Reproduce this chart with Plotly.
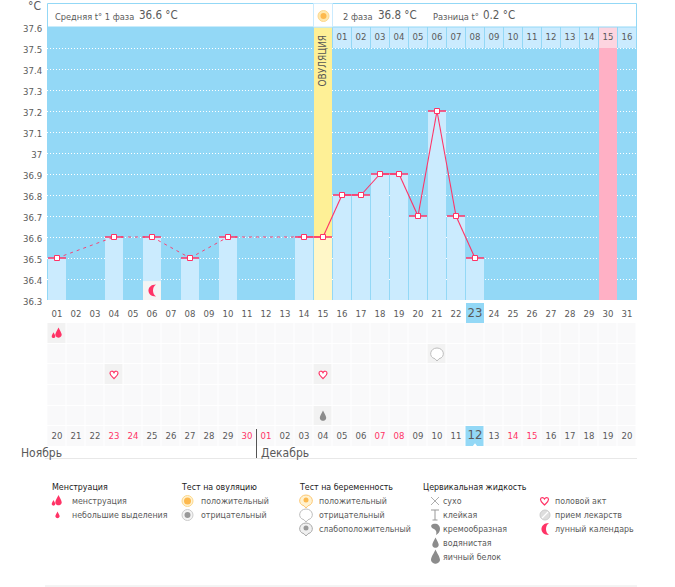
import plotly.graph_objects as go

W, H = 675, 587
FONT = "DejaVu Sans Condensed, DejaVu Sans"
TXT = "#5a5a5a"
PINK = "#ff3366"
BLUE = "#93d8f6"
PALE = "#cbebfe"

# chart data
temp_days = [1, 4, 6, 8, 10, 14, 15, 16, 17, 18, 19, 20, 21, 22, 23]
temps = [36.5, 36.6, 36.6, 36.5, 36.6, 36.6, 36.6, 36.8, 36.8, 36.9, 36.9, 36.7, 37.2, 36.7, 36.5]
temp_ticks = [36.3, 36.4, 36.5, 36.6, 36.7, 36.8, 36.9, 37.0, 37.1, 37.2, 37.3, 37.4, 37.5, 37.6]
temp_labels = ["36.3", "36.4", "36.5", "36.6", "36.7", "36.8", "36.9", "37", "37.1", "37.2", "37.3", "37.4", "37.5", "37.6"]
cycle_days = list(range(1, 32))
cycle_labels = ["%02d" % d for d in cycle_days]
today_col = 23
ovulation_day = 15
next_period_day = 30
moon_day = 6
phase2_days = cycle_days[15:]
phase2_labels = ["%02d" % d for d in range(1, 17)]
date_labels = ["20", "21", "22", "23", "24", "25", "26", "27", "28", "29", "30",
               "01", "02", "03", "04", "05", "06", "07", "08", "09", "10", "11",
               "12", "13", "14", "15", "16", "17", "18", "19", "20"]
weekend_labels = [4, 5, 11, 12, 18, 19, 25, 26]  # cycle days printed in red
menses_days = [1]
preg_neg_days = [21]
sex_days = [4, 15]
watery_days = [15]


def px(x):
    return x / W


def py(y):
    return 1 - y / H


def drop(s=1.0, dx=0, dy=0):
    p = "M{x0},{a} C{x1},{c} {x2},{e} {x2},{f} C{x2},{g} {x1},{h} {x0},{h} C{x3},{h} {x4},{g} {x4},{f} C{x4},{e} {x3},{c} {x0},{a} Z"
    return p.format(x0=dx, x1=dx + 1 * s, x2=dx + 3.6 * s, x3=dx - 1 * s, x4=dx - 3.6 * s,
                    a=dy + 6 * s, c=dy + 3.5 * s, e=dy, f=dy - 2.2 * s, g=dy - 4.4 * s, h=dy - 5.4 * s)


HEART = "M0,-4 C-2,-2 -4,-0.5 -4,1.5 C-4,4 -1,4 0,2 C1,4 4,4 4,1.5 C4,-0.5 2,-2 0,-4 Z"
MOON = "M4,6 C-6,6 -6,-6 4,-6 C0,-3.5 0,3.5 4,6 Z"
BLOB = "M-2,5 C2,6 5,4 5,0 C5,-3 3,-5 1,-6 C2,-3 1,-1 -1,0 C-4,1 -5,4 -2,5 Z"
BUBBLE = "M0,-7 L-2,-4.8 C-9,-3 -7,6 0,6 C7,6 9,-3 2,-4.8 Z"
DRY = "M-4,4 L4,-4 M-4,-4 L4,4"
STICKY = "M-4,5 H4 M0,5 V-5 M-2.5,-5 H2.5"
MENSES = drop(0.9, 1.5, 0.5) + " " + drop(0.5, -3.5, -2)
shapes = []


def icon(path, xa, ya, fill, line=None, lw=1, xref="paper", yref="paper"):
    shapes.append(dict(type="path", path=path, xsizemode="pixel", ysizemode="pixel",
                       xanchor=xa, yanchor=ya, xref=xref, yref=yref, fillcolor=fill,
                       line=dict(color=line or "rgba(0,0,0,0)", width=lw), layer="above"))


def ring(cx, cy, r, fill, line=None, lw=1):
    shapes.append(dict(type="circle", xsizemode="pixel", ysizemode="pixel", xanchor=px(cx), yanchor=py(cy),
                       x0=-r, x1=r, y0=-r, y1=r, xref="paper", yref="paper", fillcolor=fill,
                       line=dict(color=line or "rgba(0,0,0,0)", width=lw), layer="above"))


def box(x0, y0, x1, y1, fill, line=None, lw=1, layer="above"):
    shapes.append(dict(type="rect", xref="paper", yref="paper", x0=px(x0), x1=px(x1), y0=py(y0), y1=py(y1),
                       fillcolor=fill, line=dict(color=line or "rgba(0,0,0,0)", width=lw if line else 0), layer=layer))


annotations = []


def label(x, y, text, size=8.8, color=TXT, anchor="left"):
    annotations.append(dict(x=px(x), y=py(y), xref="paper", yref="paper", text=text, showarrow=False,
                            xanchor=anchor, yanchor="middle", borderpad=0, borderwidth=0,
                            font=dict(family=FONT, size=size, color=color)))


# plot background, below the grid lines
shapes.append(dict(type="rect", xref="x domain", yref="y domain", x0=0, x1=1, y0=0, y1=1,
                   fillcolor=BLUE, line=dict(width=0), layer="below"))
# highlighted day under the x axis labels
shapes.append(dict(type="rect", xref="x", yref="paper", x0=today_col - 9 / 19, x1=today_col + 9 / 19,
                   y0=py(323), y1=py(303), fillcolor=BLUE, line=dict(width=0), layer="below"))

# header strip
box(47.5, 3.5, 636.5, 27, "white", BLUE)
box(313.5, 3.5, 332.5, 27, "white", "#cbebfe")
ring(323.5, 16, 5.5, "#ffe7ad", "#fdd88c")
ring(323.5, 16, 3, "#fdb94e")
label(55, 16, "Средняя t° 1 фаза", 9.2)
label(139, 15.5, "36.6 °C", 11.5)
label(343, 16, "2 фаза", 9.2)
label(378, 15.5, "36.8 °C", 11.5)
label(433, 16, "Разница t°", 9.2)
label(483, 15.5, "0.2 °C", 11.5)
label(28, 6.5, "°C", 12)

# month labels and rules
label(21, 453, "Ноябрь", 12)
label(261, 453, "Декабрь", 12)
shapes.append(dict(type="line", xref="paper", yref="paper", x0=px(45), x1=px(637), y0=py(458.5), y1=py(458.5),
                   line=dict(color="#e8e8e8", width=1)))
shapes.append(dict(type="line", xref="paper", yref="paper", x0=px(45), x1=px(637), y0=py(586), y1=py(586),
                   line=dict(color="#e8e8e8", width=1)))
shapes.append(dict(type="line", xref="paper", yref="paper", x0=px(256.5), x1=px(256.5), y0=py(429), y1=py(458),
                   line=dict(color="#555555", width=1)))

# icons inside the grid
for d in menses_days:
    icon(MENSES, d, 1, PINK, xref="x", yref="y2")
for d in preg_neg_days:
    icon(BUBBLE, d, 2, "white", "#bdbdbd", xref="x", yref="y2")
for d in sex_days:
    icon(HEART, d, 3, "white", PINK, 1.2, xref="x", yref="y2")
for d in watery_days:
    icon(drop(0.9), d, 5, "#8c8c8c", xref="x", yref="y2")
icon(MOON, moon_day, 36.345, PINK, xref="x", yref="y")

# legend block
label(52, 487, "Менструация", 8.8, "#222222")
icon(MENSES, px(57), py(501), PINK)
label(72, 501, "менструация")
icon(drop(0.6), px(57.5), py(515), PINK)
label(72, 515, "небольшие выделения")

label(181, 487, "Тест на овуляцию", 8.8, "#222222")
ring(187.5, 501, 5.5, "#fff2d0", "#fdd88c")
ring(187.5, 501, 3.5, "#fdb94e")
label(201, 501, "положительный")
ring(187.5, 515, 5.5, "#f4f4f4", "#cccccc")
ring(187.5, 515, 3, "#999999")
label(201, 515, "отрицательный")

label(299, 487, "Тест на беременность", 8.8, "#222222")
icon(BUBBLE, px(306), py(501), "#fff2d0", "#fdc874")
ring(306, 500, 2.5, "#fdb94e")
label(319, 501, "положительный")
icon(BUBBLE, px(306), py(515), "white", "#bdbdbd")
label(319, 515, "отрицательный")
icon(BUBBLE, px(306), py(529), "#f0f0f0", "#aaaaaa")
ring(306, 528, 2.5, "#999999")
label(319, 529, "слабоположительный")

label(423, 487, "Цервикальная жидкость", 8.8, "#222222")
icon(DRY, px(435), py(501), "rgba(0,0,0,0)", "#999999", 0.8)
label(443, 501, "сухо")
icon(STICKY, px(435), py(515), "rgba(0,0,0,0)", "#999999", 1)
label(443, 515, "клейкая")
icon(BLOB, px(435), py(529), "#8c8c8c")
label(443, 529, "кремообразная")
icon(drop(0.9), px(435.5), py(543), "#8c8c8c")
label(443, 543, "водянистая")
icon(drop(1.25), px(435.5), py(557), "#8c8c8c")
label(443, 557, "яичный белок")

icon(HEART, px(544.5), py(501), "white", PINK, 1.2)
label(555, 501, "половой акт")
ring(545, 515, 5, "#dddddd", "#cccccc")
shapes.append(dict(type="line", xref="paper", yref="paper", x0=px(542), x1=px(548), y0=py(518), y1=py(512),
                   line=dict(color="white", width=1.2)))
label(555, 515, "прием лекарств")
icon(MOON, px(545), py(529), PINK)
label(555, 529, "лунный календарь")

annotations.append(dict(x=ovulation_day, y=37.44, xref="x", yref="y", text="ОВУЛЯЦИЯ", textangle=-90,
                        showarrow=False, font=dict(family=FONT, size=10, color="#555555")))

fig = go.Figure()
bar_w = 18 / 19

# column backgrounds
ov_temp = temps[temp_days.index(ovulation_day)]
fig.add_bar(x=[ovulation_day], y=[37.6 - ov_temp], base=[ov_temp], width=bar_w, marker=dict(color="#fef096", line_width=0))
fig.add_bar(x=[next_period_day], y=[37.6 - 36.3], base=[36.3], width=bar_w, marker=dict(color="#ffb0c5", line_width=0))
fig.add_bar(x=phase2_days, y=[0.1] * len(phase2_days), base=[37.5] * len(phase2_days), width=bar_w,
            marker=dict(color=["#fdd5e0" if d == next_period_day else PALE for d in phase2_days], line_width=0))

# temperature bars
fig.add_bar(x=temp_days, y=[t - 36.3 for t in temps], base=[36.3] * len(temps), width=bar_w,
            marker=dict(color=["#fff7c8" if d == ovulation_day else PALE for d in temp_days], line_width=0))
fig.add_bar(x=[moon_day], y=[0.09], base=[36.3], width=bar_w, marker=dict(color="#f4f4f4", line_width=0))

# line: dashed across missing days, solid between neighbours
dash_x, dash_y, solid_x, solid_y = [], [], [], []
for i in range(len(temp_days) - 1):
    if temp_days[i + 1] - temp_days[i] > 1:
        dash_x += [temp_days[i], temp_days[i + 1], None]
        dash_y += [temps[i], temps[i + 1], None]
    else:
        solid_x += [temp_days[i], temp_days[i + 1], None]
        solid_y += [temps[i], temps[i + 1], None]
fig.add_scatter(x=dash_x, y=dash_y, mode="lines", line=dict(color=PINK, width=0.9, dash="3px,4px"))
fig.add_scatter(x=solid_x, y=solid_y, mode="lines", line=dict(color=PINK, width=1.1))
fig.add_scatter(x=temp_days, y=temps, mode="markers",
                error_x=dict(type="constant", value=9 / 19, width=0, thickness=1.5, color=PINK),
                marker=dict(symbol="square", size=5, color="white", line=dict(color=PINK, width=1)))
fig.add_scatter(x=phase2_days, y=[37.548] * len(phase2_days), mode="text", text=phase2_labels,
                textfont=dict(family=FONT, size=9.5, color=TXT))

# lower grid: rows 1-5 hold the marks, row 6 the dates
grid = [[1] * 31 for _ in range(6)]
for d in menses_days:
    grid[0][d - 1] = 2
for d in preg_neg_days:
    grid[1][d - 1] = 2
for d in sex_days:
    grid[2][d - 1] = 2
for d in watery_days:
    grid[4][d - 1] = 2
grid[5][today_col - 1] = 3
fig.add_heatmap(x=cycle_days, y=list(range(1, 7)), z=grid, xaxis="x", yaxis="y2", showscale=False, xgap=1, ygap=1,
                zmin=1, zmax=3, hoverinfo="skip",
                colorscale=[[0, "#f9f9fa"], [0.4, "#f9f9fa"], [0.5, "#f2f2f2"], [0.9, "#f2f2f2"], [1, BLUE]])
fig.add_scatter(x=cycle_days, y=[6] * 31, mode="text", xaxis="x", yaxis="y2", textposition="middle center",
                text=["<span style='font-size:13px'>%s</span>" % s if d == today_col else s
                      for d, s in zip(cycle_days, date_labels)],
                textfont=dict(family=FONT, size=9.5,
                              color=[PINK if d in weekend_labels else TXT for d in cycle_days]))
fig.add_scatter(x=[today_col], y=[6.42], mode="markers", xaxis="x", yaxis="y2",
                marker=dict(symbol="triangle-up", size=4, color="white"))

tick_text = ["<span style='font-size:13px'>%s</span>" % s if d == today_col else s
             for d, s in zip(cycle_days, cycle_labels)]

fig.update_layout(
    width=W, height=H, autosize=False,
    margin=dict(l=0, r=0, t=0, b=0, autoexpand=False),
    paper_bgcolor="white", plot_bgcolor="rgba(0,0,0,0)",
    barmode="overlay", showlegend=False,
    font=dict(family=FONT, size=10, color=TXT),
    shapes=shapes, annotations=annotations,
    xaxis=dict(domain=[px(47), px(637)], range=[1 - 10 / 19, 31 + 10 / 19], tickvals=cycle_days, ticktext=tick_text,
               showgrid=False, zeroline=False, ticks="outside", ticklen=5, tickcolor="rgba(0,0,0,0)",
               tickfont=dict(family=FONT, size=9.5, color=TXT), anchor="y"),
    yaxis=dict(domain=[py(300), py(27)], range=[36.3, 37.6], tickvals=temp_ticks, ticktext=temp_labels,
               griddash="1px,2px", gridcolor="white", gridwidth=1, showgrid=True, zeroline=False,
               ticks="outside", ticklen=2, tickcolor="rgba(0,0,0,0)", ticklabelshift=2,
               tickfont=dict(family=FONT, size=9.5, color=TXT), anchor="x"),
    yaxis2=dict(domain=[py(447), py(323)], range=[6.5, 0.5], showgrid=False, zeroline=False,
                showticklabels=False, anchor="x"),
)

fig.write_html("out.html", post_script="document.body.style.margin='0';", config={"displayModeBar": False})
